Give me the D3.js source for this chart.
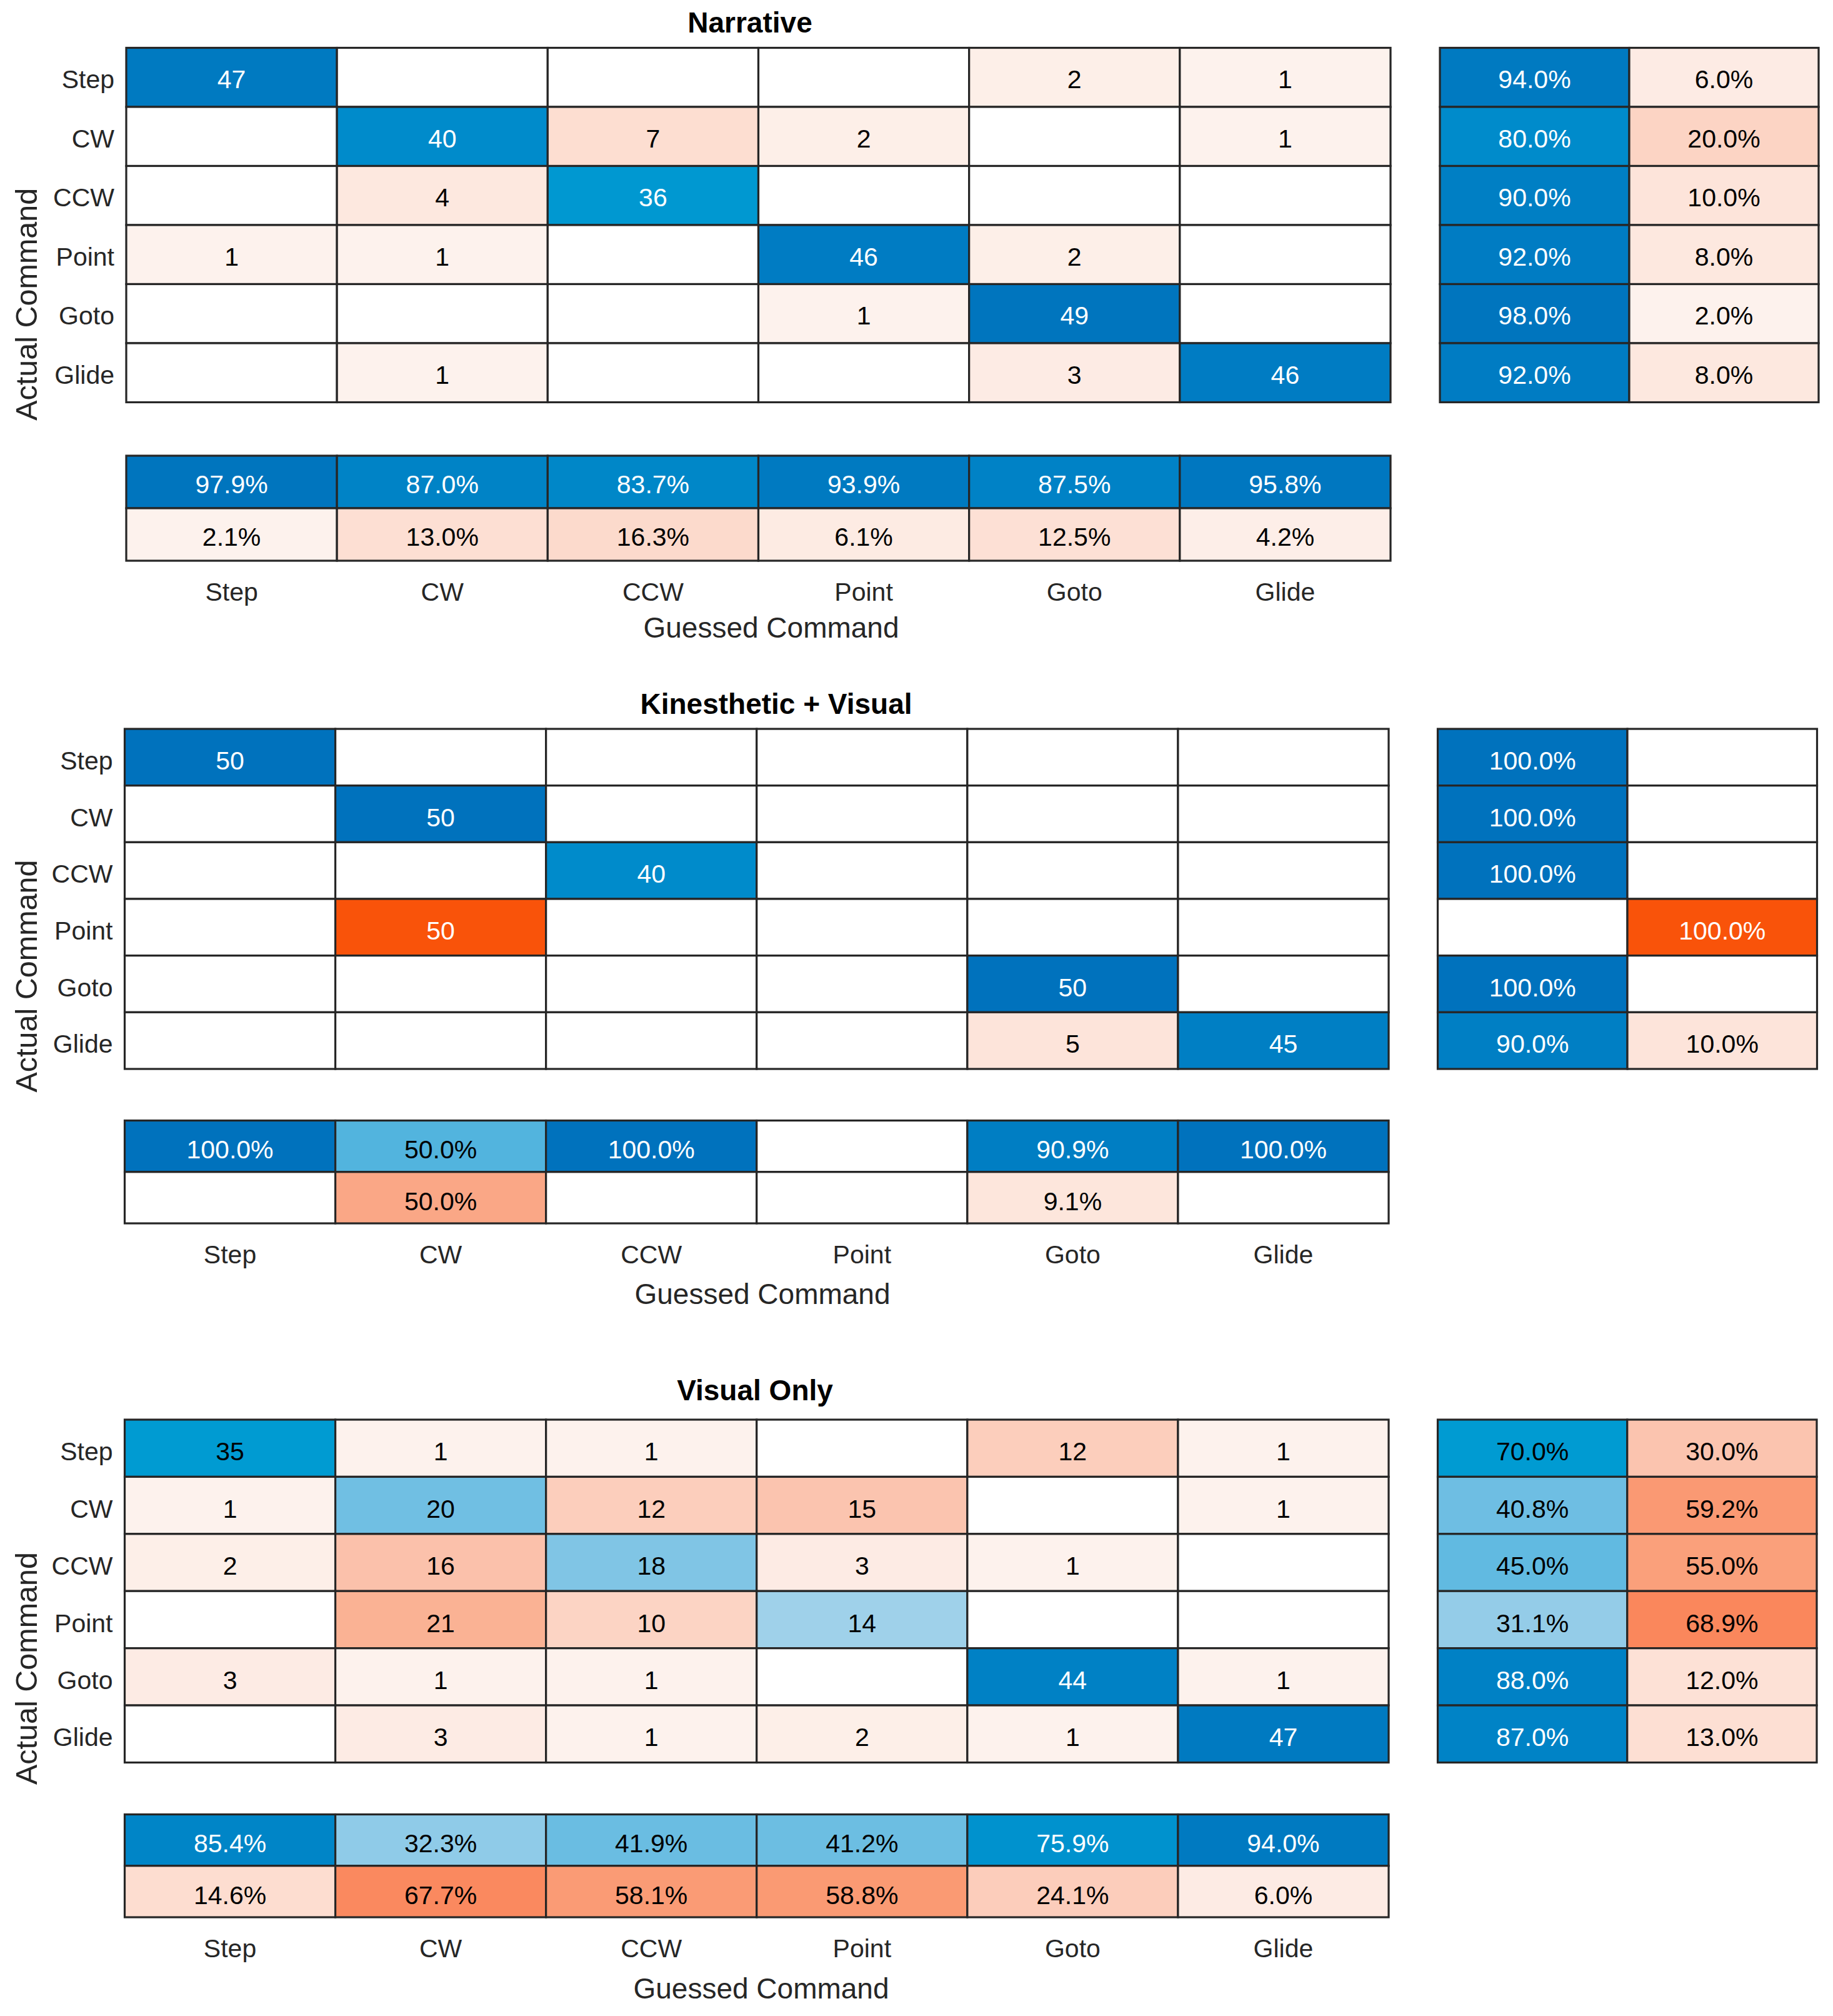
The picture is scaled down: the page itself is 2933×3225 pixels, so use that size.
<!DOCTYPE html>
<html>
<head>
<meta charset="utf-8">
<script src="https://cdn.jsdelivr.net/npm/d3@7"></script>
<style>
  html, body { margin: 0; padding: 0; background: #ffffff; }
  svg { display: block; }
</style>
</head>
<body>
<svg id="chart" width="2933" height="3225"></svg>
<script>
// ---------------- data ----------------
const categories = ["Step", "CW", "CCW", "Point", "Goto", "Glide"];
const panelTitles = ["Narrative", "Kinesthetic + Visual", "Visual Only"];
const xAxisLabel = "Guessed Command";
const yAxisLabel = "Actual Command";

// rows = actual command, columns = guessed command
const narrativeCounts = [
  [47, 0, 0, 0, 2, 1],
  [0, 40, 7, 2, 0, 1],
  [0, 4, 36, 0, 0, 0],
  [1, 1, 0, 46, 2, 0],
  [0, 0, 0, 1, 49, 0],
  [0, 1, 0, 0, 3, 46]
];
const kinestheticVisualCounts = [
  [50, 0, 0, 0, 0, 0],
  [0, 50, 0, 0, 0, 0],
  [0, 0, 40, 0, 0, 0],
  [0, 50, 0, 0, 0, 0],
  [0, 0, 0, 0, 50, 0],
  [0, 0, 0, 0, 5, 45]
];
const visualOnlyCounts = [
  [35, 1, 1, 0, 12, 1],
  [1, 20, 12, 15, 0, 1],
  [2, 16, 18, 3, 1, 0],
  [0, 21, 10, 14, 0, 0],
  [3, 1, 1, 0, 44, 1],
  [0, 3, 1, 2, 1, 47]
];
const panelCounts = [narrativeCounts, kinestheticVisualCounts, visualOnlyCounts];
const countColorMax = 50;

// ---------------- layout (pixels) ----------------
const layouts = [
  { left: 202, right: 2225, top: 76.5, bottom: 643.5, sumTop: 729, sumBottom: 897,
    rLeft: 2304, rRight: 2910, titleX: 1200, titleY: 51.5, xLabelX: 1234, xLabelY: 1020, dy: "0.43em" },
  { left: 199.5, right: 2222, top: 1166, bottom: 1710, sumTop: 1792.5, sumBottom: 1957,
    rLeft: 2300.5, rRight: 2907.5, titleX: 1242, titleY: 1141.5, xLabelX: 1220, xLabelY: 2085.5, dy: "0.48em" },
  { left: 199.5, right: 2222, top: 2271, bottom: 2819.5, sumTop: 2902.5, sumBottom: 3067,
    rLeft: 2300.5, rRight: 2907, titleX: 1208, titleY: 2239.5, xLabelX: 1218, xLabelY: 3196.5, dy: "0.48em" }
];

const FONT = '"Liberation Sans", Arial, Helvetica, sans-serif';
const textGray = "#262626";
const lineColor = "#262626";
const lineWidth = 3.2;
const cellFont = 41;

// ---------------- colour scales ----------------
const blueScale = d3.scaleLinear()
  .domain([0, 0.3, 0.4, 0.5, 0.6, 0.7, 0.8, 0.9, 1])
  .range(["#ffffff", "rgb(152,206,233)", "rgb(112,191,227)", "rgb(82,180,222)",
          "rgb(40,168,216)", "rgb(0,155,210)", "rgb(0,139,203)", "rgb(0,127,196)", "rgb(0,114,189)"])
  .interpolate(d3.interpolateRgb).clamp(true);
const redScale = d3.scaleLinear()
  .domain([0, 0.02, 0.1, 0.2, 0.3, 0.42, 0.5, 0.6, 0.69, 1])
  .range(["#ffffff", "rgb(253,242,237)", "rgb(253,228,218)", "rgb(252,212,196)", "rgb(251,196,175)",
          "rgb(250,178,148)", "rgb(250,167,134)", "rgb(250,152,113)", "rgb(250,135,92)", "rgb(249,83,10)"])
  .interpolate(d3.interpolateRgb).clamp(true);

function fillFor(t, good) {
  if (!(t > 0)) return "#ffffff";
  return good ? blueScale(t) : redScale(t);
}
function textFor(t) { return t >= 0.71 ? "#ffffff" : "#000000"; }
const pct = d3.format(".1%");

const svg = d3.select("#chart");
svg.append("rect").attr("width", 2933).attr("height", 3225).attr("fill", "#ffffff");

function drawCells(g, cells, dy) {
  const cg = g.selectAll(null).data(cells).enter().append("g");
  cg.append("rect")
    .attr("x", d => d.x).attr("y", d => d.y)
    .attr("width", d => d.w).attr("height", d => d.h)
    .attr("fill", d => fillFor(d.t, d.good))
    .attr("stroke", lineColor).attr("stroke-width", lineWidth);
  cg.filter(d => d.label !== "").append("text")
    .attr("x", d => d.x + d.w / 2).attr("y", d => d.y + d.h / 2)
    .attr("dy", dy)
    .attr("text-anchor", "middle")
    .attr("font-family", FONT).attr("font-size", cellFont)
    .attr("fill", d => textFor(d.t))
    .text(d => d.label);
}

panelCounts.forEach((counts, p) => {
  const L = layouts[p];
  const g = svg.append("g");
  const x = d3.scaleBand().domain(categories).range([L.left, L.right]);
  const y = d3.scaleBand().domain(categories).range([L.top, L.bottom]);

  // main matrix
  const cells = [];
  counts.forEach((row, i) => row.forEach((v, j) => {
    cells.push({ x: x(categories[j]), y: y(categories[i]), w: x.bandwidth(), h: y.bandwidth(),
      t: v / countColorMax, good: i === j, label: v > 0 ? String(v) : "" });
  }));
  drawCells(g, cells, L.dy);

  // row summary (right)
  const rx = d3.scaleBand().domain(["correct", "wrong"]).range([L.rLeft, L.rRight]);
  const rowCells = [];
  counts.forEach((row, i) => {
    const total = d3.sum(row);
    const c = total > 0 ? row[i] / total : 0;
    const w = total > 0 ? 1 - c : 0;
    rowCells.push({ x: rx("correct"), y: y(categories[i]), w: rx.bandwidth(), h: y.bandwidth(),
      t: c, good: true, label: c > 0 ? pct(c) : "" });
    rowCells.push({ x: rx("wrong"), y: y(categories[i]), w: rx.bandwidth(), h: y.bandwidth(),
      t: w, good: false, label: w > 1e-9 ? pct(w) : "" });
  });
  drawCells(g, rowCells, L.dy);

  // column summary (bottom)
  const sy = d3.scaleBand().domain(["correct", "wrong"]).range([L.sumTop, L.sumBottom]);
  const colCells = [];
  categories.forEach((cat, j) => {
    const total = d3.sum(counts, r => r[j]);
    const c = total > 0 ? counts[j][j] / total : 0;
    const w = total > 0 ? 1 - c : 0;
    colCells.push({ x: x(cat), y: sy("correct"), w: x.bandwidth(), h: sy.bandwidth(),
      t: c, good: true, label: c > 0 ? pct(c) : "" });
    colCells.push({ x: x(cat), y: sy("wrong"), w: x.bandwidth(), h: sy.bandwidth(),
      t: w, good: false, label: w > 1e-9 ? pct(w) : "" });
  });
  drawCells(g, colCells, L.dy);

  // y axis tick labels
  const yAxis = g.append("g")
    .attr("transform", `translate(${L.left},0)`)
    .call(d3.axisLeft(y).tickSize(0).tickPadding(19));
  yAxis.select(".domain").remove();
  yAxis.attr("font-family", FONT).attr("font-size", cellFont);
  yAxis.selectAll("text").attr("fill", textGray).attr("dy", L.dy);

  // x axis tick labels
  const xAxis = g.append("g")
    .attr("transform", `translate(0,${L.sumBottom})`)
    .call(d3.axisBottom(x).tickSize(0).tickPadding(0));
  xAxis.select(".domain").remove();
  xAxis.attr("font-family", FONT).attr("font-size", cellFont);
  xAxis.selectAll("text").attr("fill", textGray).attr("y", 64).attr("dy", "0");

  // axis labels
  g.append("text")
    .attr("x", L.xLabelX).attr("y", L.xLabelY)
    .attr("text-anchor", "middle")
    .attr("font-family", FONT).attr("font-size", 46).attr("fill", textGray)
    .text(xAxisLabel);
  g.append("text")
    .attr("transform", `translate(59,${(L.top + L.sumBottom) / 2}) rotate(-90)`)
    .attr("text-anchor", "middle")
    .attr("font-family", FONT).attr("font-size", 48.5).attr("fill", textGray)
    .text(yAxisLabel);

  // title
  g.append("text")
    .attr("x", L.titleX).attr("y", L.titleY)
    .attr("text-anchor", "middle")
    .attr("font-family", FONT).attr("font-size", 46).attr("font-weight", "bold").attr("fill", "#000000")
    .text(panelTitles[p]);
});
</script>
</body>
</html>
